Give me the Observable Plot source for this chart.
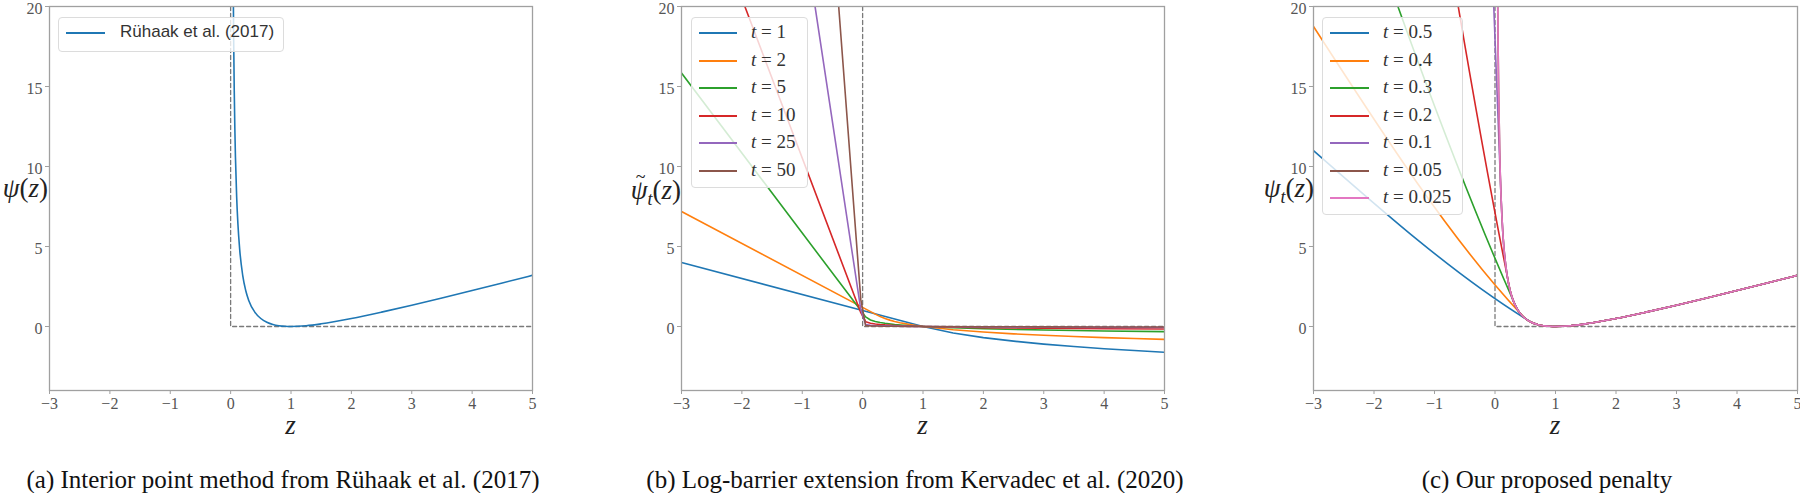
<!DOCTYPE html>
<html><head><meta charset="utf-8">
<script src="https://cdn.jsdelivr.net/npm/d3@7"></script>
<script src="https://cdn.jsdelivr.net/npm/@observablehq/plot@0.6"></script>
<style>
body{margin:0;background:#fff;}
#fig{position:relative;width:1800px;height:493px;overflow:hidden;background:#fff;}
#fig svg text{font-family:"Liberation Serif",serif !important;}
.panel{position:absolute;top:0;}
.abs{position:absolute;white-space:nowrap;}
.math{font-family:"Liberation Serif",serif;color:#222;}
.ylab{font-size:27px;line-height:27px;text-align:right;}
.xlab{font-size:27px;line-height:30px;transform:translateX(-50%);font-style:italic;}
.cap{font-family:"Liberation Serif",serif;font-size:25px;color:#111;transform:translateX(-50%);line-height:28px;}
.legend{background:rgba(255,255,255,0.8);border:1px solid #dcdcdc;border-radius:4px;box-sizing:border-box;}
.sw{position:absolute;height:2px;}
.lt{position:absolute;white-space:nowrap;}
</style></head>
<body><div id="fig"></div>
<script>
// ---------- shared axes ----------
const xTicks = [-3, -2, -1, 0, 1, 2, 3, 4, 5];
const yTicks = [0, 5, 10, 15, 20];
const xDomain = [-3, 5];
const yDomain = [-4, 20];
const idealZ = [0, 0, 5];
const idealY = [20, 0, 0];

// ---------- panel (a): Rühaak et al. (2017) ----------
const aLabel = "Rühaak et al. (2017)";
const aZ = [0.04, 0.05, 0.06, 0.07, 0.08, 0.1, 0.12, 0.15, 0.2, 0.25, 0.3, 0.4, 0.5, 0.6, 0.7, 0.8, 0.9, 1, 1.25, 1.5, 2, 2.5, 3, 3.5, 4, 4.5, 5];
const aY = [23.04, 18.05, 14.73, 12.36, 10.58, 8.1, 6.45, 4.82, 3.2, 2.25, 1.63, 0.9, 0.5, 0.267, 0.129, 0.05, 0.011, 0, 0.05, 0.167, 0.5, 0.9, 1.333, 1.786, 2.25, 2.722, 3.2];

// ---------- panel (b): log-barrier extension ----------
const bLabels = ["1", "2", "5", "10", "25", "50"];
const bZ1 = [-3, 0, 1, 1.5, 2, 2.5, 3, 3.5, 4, 4.5, 5];
const bY1 = [4, 1, 0, -0.405, -0.693, -0.916, -1.099, -1.253, -1.386, -1.504, -1.609];
const bZ2 = [-3, 0.21, 0.29, 0.37, 0.45, 0.53, 0.62, 0.7, 0.78, 0.86, 1, 1.5, 2, 2.5, 3, 3.5, 4, 4.5, 5];
const bY2 = [7.19, 0.773, 0.619, 0.497, 0.399, 0.317, 0.239, 0.178, 0.124, 0.075, 0, -0.203, -0.347, -0.458, -0.549, -0.626, -0.693, -0.752, -0.805];
const bZ5 = [-3, -0.03, 0.05, 0.13, 0.21, 0.29, 0.37, 0.53, 0.78, 1, 1.5, 2, 3, 4, 5];
const bY5 = [15.84, 0.994, 0.599, 0.408, 0.312, 0.248, 0.199, 0.127, 0.05, 0, -0.081, -0.139, -0.22, -0.277, -0.322];
const bZ10 = [-3, -0.03, 0.05, 0.13, 0.21, 0.29, 0.37, 0.53, 0.78, 1, 2, 3, 4, 5];
const bY10 = [30.46, 0.861, 0.3, 0.204, 0.156, 0.124, 0.099, 0.063, 0.025, 0, -0.069, -0.11, -0.139, -0.161];
const bZ25 = [-3, -0.03, 0.05, 0.13, 0.21, 0.37, 0.53, 0.78, 1, 2, 3, 4, 5];
const bY25 = [75.3, 1.047, 0.12, 0.082, 0.062, 0.04, 0.025, 0.01, 0, -0.028, -0.044, -0.055, -0.064];
const bZ50 = [-3, -0.03, 0.05, 0.13, 0.21, 0.37, 0.53, 0.78, 1, 2, 3, 4, 5];
const bY50 = [150.2, 1.677, 0.06, 0.041, 0.031, 0.02, 0.013, 0.005, 0, -0.014, -0.022, -0.028, -0.032];

// ---------- panel (c): proposed penalty ----------
const cLabels = ["0.5", "0.4", "0.3", "0.2", "0.1", "0.05", "0.025"];
const cZ05 = [-3, 0.5, 0.6, 0.7, 0.8, 0.9, 1, 1.25, 1.5, 2, 2.5, 3, 3.5, 4, 4.5, 5];
const cY05 = [11, 0.5, 0.267, 0.129, 0.05, 0.011, 0, 0.05, 0.167, 0.5, 0.9, 1.333, 1.786, 2.25, 2.722, 3.2];
const cZ04 = [-3, 0.4, 0.5, 0.6, 0.7, 0.8, 0.9, 1, 1.25, 1.5, 2, 2.5, 3, 3.5, 4, 4.5, 5];
const cY04 = [18.75, 0.9, 0.5, 0.267, 0.129, 0.05, 0.011, 0, 0.05, 0.167, 0.5, 0.9, 1.333, 1.786, 2.25, 2.722, 3.2];
const cZ03 = [-3, 0.3, 0.35, 0.4, 0.5, 0.6, 0.7, 0.8, 0.9, 1, 1.25, 1.5, 2, 2.5, 3, 3.5, 4, 4.5, 5];
const cY03 = [35.0, 1.633, 1.207, 0.9, 0.5, 0.267, 0.129, 0.05, 0.011, 0, 0.05, 0.167, 0.5, 0.9, 1.333, 1.786, 2.25, 2.722, 3.2];
const cZ02 = [-3, 0.2, 0.25, 0.3, 0.35, 0.4, 0.5, 0.6, 0.7, 0.8, 0.9, 1, 1.25, 1.5, 2, 2.5, 3, 3.5, 4, 4.5, 5];
const cY02 = [80, 3.2, 2.25, 1.633, 1.207, 0.9, 0.5, 0.267, 0.129, 0.05, 0.011, 0, 0.05, 0.167, 0.5, 0.9, 1.333, 1.786, 2.25, 2.722, 3.2];
const cZ01 = [-3, 0.1, 0.13, 0.15, 0.2, 0.25, 0.3, 0.35, 0.4, 0.5, 0.6, 0.7, 0.8, 0.9, 1, 1.25, 1.5, 2, 2.5, 3, 3.5, 4, 4.5, 5];
const cY01 = [315, 8.1, 5.82, 4.82, 3.2, 2.25, 1.633, 1.207, 0.9, 0.5, 0.267, 0.129, 0.05, 0.011, 0, 0.05, 0.167, 0.5, 0.9, 1.333, 1.786, 2.25, 2.722, 3.2];
const cZ005 = [-3, 0.05, 0.06, 0.08, 0.1, 0.13, 0.15, 0.2, 0.25, 0.3, 0.35, 0.4, 0.5, 0.6, 0.7, 0.8, 0.9, 1, 1.25, 1.5, 2, 2.5, 3, 3.5, 4, 4.5, 5];
const cY005 = [1235, 18.05, 14.73, 10.58, 8.1, 5.82, 4.82, 3.2, 2.25, 1.633, 1.207, 0.9, 0.5, 0.267, 0.129, 0.05, 0.011, 0, 0.05, 0.167, 0.5, 0.9, 1.333, 1.786, 2.25, 2.722, 3.2];
const cZ0025 = [-3, 0.025, 0.03, 0.04, 0.05, 0.06, 0.08, 0.1, 0.13, 0.15, 0.2, 0.25, 0.3, 0.35, 0.4, 0.5, 0.6, 0.7, 0.8, 0.9, 1, 1.25, 1.5, 2, 2.5, 3, 3.5, 4, 4.5, 5];
const cY0025 = [4873, 36.1, 31.36, 23.04, 18.05, 14.73, 10.58, 8.1, 5.82, 4.82, 3.2, 2.25, 1.633, 1.207, 0.9, 0.5, 0.267, 0.129, 0.05, 0.011, 0, 0.05, 0.167, 0.5, 0.9, 1.333, 1.786, 2.25, 2.722, 3.2];

const palette = ["#1f77b4", "#ff7f0e", "#2ca02c", "#d62728", "#9467bd", "#8c564b", "#e377c2"];

const captions = [
  "(a) Interior point method from Rühaak et al. (2017)",
  "(b) Log-barrier extension from Kervadec et al. (2020)",
  "(c) Our proposed penalty"
];

// ---------- build ----------
const fig = document.getElementById("fig");
const zip = (zs, ys) => zs.map((z, i) => ({z, y: ys[i]}));

function makePanel(left, ml, mr, series, curve) {
  const marks = [
    Plot.line(zip(idealZ, idealY), {x: "z", y: "y", stroke: "#7a7a7a", strokeWidth: 1.3, strokeDasharray: "4,3", clip: true}),
    ...series.map((s, i) => Plot.line(zip(s.z, s.y), {x: "z", y: "y", stroke: s.color, strokeWidth: 1.6, curve, clip: true})),
    Plot.frame({stroke: "#a0a0a0", strokeWidth: 1.3}),
    Plot.axisX({ticks: xTicks, tickSize: 4, tickPadding: 3, stroke: "#a0a0a0", fill: "#555", label: null}),
    Plot.axisY({ticks: yTicks, tickSize: 4, tickFormat: () => "", stroke: "#a0a0a0", label: null}),
    Plot.axisY({ticks: yTicks, tickSize: 0, tickPadding: 7, dy: 2, fill: "#555", label: null})
  ];
  const svg = Plot.plot({
    width: 600, height: 493,
    marginLeft: ml, marginRight: mr, marginTop: 6, marginBottom: 103,
    x: {domain: xDomain}, y: {domain: yDomain},
    style: {fontFamily: "'Liberation Serif', serif", fontSize: "16px", background: "transparent", overflow: "visible"},
    marks
  });
  const d = document.createElement("div");
  d.className = "panel";
  d.style.left = left + "px";
  d.appendChild(svg);
  fig.appendChild(d);
}

makePanel(0, 49, 68, [{z: aZ, y: aY, color: palette[0]}], "monotone-x");
makePanel(600, 81, 36, [
  {z: bZ1, y: bY1, color: palette[0]},
  {z: bZ2, y: bY2, color: palette[1]},
  {z: bZ5, y: bY5, color: palette[2]},
  {z: bZ10, y: bY10, color: palette[3]},
  {z: bZ25, y: bY25, color: palette[4]},
  {z: bZ50, y: bY50, color: palette[5]}
], "linear");
makePanel(1200, 113, 3, [
  {z: cZ05, y: cY05, color: palette[0]},
  {z: cZ04, y: cY04, color: palette[1]},
  {z: cZ03, y: cY03, color: palette[2]},
  {z: cZ02, y: cY02, color: palette[3]},
  {z: cZ01, y: cY01, color: palette[4]},
  {z: cZ005, y: cY005, color: palette[5]},
  {z: cZ0025, y: cY0025, color: palette[6]}
], "monotone-x");

function addHTML(html) { fig.insertAdjacentHTML("beforeend", html); }

// y labels
const sub = `<sub style="font-size:18px;font-style:italic;vertical-align:-6px;line-height:0">t</sub>`;
addHTML(`<div class="abs math ylab" style="right:${1800-48}px;top:175px"><i>ψ</i>(<i>z</i>)</div>`);
addHTML(`<div class="abs math ylab" style="right:${1800-681}px;top:177px"><span style="position:relative;display:inline-block"><i>ψ</i><span style="position:absolute;left:5px;top:-9px;font-size:18px;line-height:18px">~</span></span>${sub}(<i>z</i>)</div>`);
addHTML(`<div class="abs math ylab" style="right:${1800-1314}px;top:175px"><i>ψ</i>${sub}(<i>z</i>)</div>`);
// x labels
[290.5, 922.5, 1555].forEach(cx => addHTML(`<div class="abs math xlab" style="left:${cx}px;top:410px">z</div>`));
// captions
[283, 915, 1547].forEach((cx, i) => addHTML(`<div class="abs cap" style="left:${cx}px;top:466px">${captions[i]}</div>`));

// legends
function legend(left, top, width, height, rows, swL, swR, txtL, font, size, rowY) {
  let h = `<div class="abs legend" style="left:${left}px;top:${top}px;width:${width}px;height:${height}px">`;
  rows.forEach((r, i) => {
    const y = rowY[i] - top - 1;
    h += `<div class="sw" style="left:${swL-left-1}px;width:${swR-swL}px;top:${y-1}px;background:${r.color}"></div>`;
    h += `<div class="lt" style="left:${txtL-left-1}px;top:${y - size*0.62}px;font-family:${font};font-size:${size}px;line-height:${size*1.2}px;color:#333">${r.html}</div>`;
  });
  h += `</div>`;
  addHTML(h);
}
legend(58, 17, 226, 35, [{color: palette[0], html: aLabel}], 66, 105, 120, "'Liberation Sans', sans-serif", 17, [33]);
const rowYs = [33, 60.5, 88, 115.5, 143, 170.5, 198];
legend(691, 17, 117, 171, bLabels.map((v, i) => ({color: palette[i], html: `<i>t</i> = ${v}`})), 699, 737, 751, "'Liberation Serif', serif", 19, rowYs);
legend(1322, 17, 141, 198, cLabels.map((v, i) => ({color: palette[i], html: `<i>t</i> = ${v}`})), 1330, 1369, 1383, "'Liberation Serif', serif", 19, rowYs);
</script></body></html>
